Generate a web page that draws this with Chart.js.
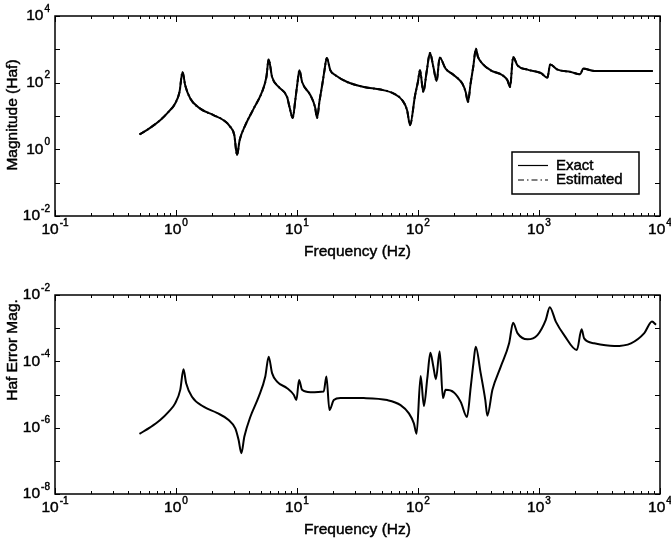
<!DOCTYPE html>
<html>
<head>
<meta charset="utf-8">
<script src="https://cdn.jsdelivr.net/npm/chart.js@4/dist/chart.umd.min.js"></script>
<style>
  html, body { margin: 0; padding: 0; background: #fff; }
  #wrap { position: relative; width: 671px; height: 546px; }
  #wrap canvas { position: absolute; left: 0; }
</style>
</head>
<body>
<div id="wrap">
  <canvas id="top" width="671" height="273" style="top:0"></canvas>
  <canvas id="bottom" width="671" height="273" style="top:273px"></canvas>
</div>
<script>
// --- data (Hz, magnitude) ---
const magFreq = [0.499, 0.611, 0.740, 0.867, 0.984, 1.069, 1.132, 1.191, 1.312, 1.585,
  2.042, 2.472, 2.812, 3.034, 3.192, 3.357, 3.741, 4.385, 5.140, 5.585,
  5.834, 6.223, 7.063, 8.279, 8.67, 9.226, 9.64, 10.07, 10.47, 11.02,
  12.91, 14.09, 14.66, 15.31, 16.14, 16.87, 17.62, 18.88, 20.80, 26.00,
  35.65, 48.98, 63.10, 74.13, 81.28, 85.9, 94.6, 99.8, 103.8, 110.7,
  117.8, 125.6, 134, 142.6, 151.0, 169.0, 198.2, 232.3, 247.7, 258.8,
  272, 286, 301.3, 312, 340.4, 399.0, 498.9, 548.3, 576.8, 611.0,
  663.7, 803.5, 1035, 1175, 1236, 1422, 1832, 2188, 2317, 2858,
  5754, 8710];
const exactMag = [2.79, 4.41, 7.48, 13.3, 23.7, 52.7, 209, 83.6, 33.4, 16.7,
  10.6, 7.48, 4.72, 2.66, 0.67, 1.88, 5.31, 16.7, 52.7, 148,
  501, 148, 74.3, 37.3, 18.7, 8.77, 26.4, 94, 235, 105,
  42.0, 18.7, 8.77, 26.4, 83.6, 235, 550, 234, 167, 105,
  74.3, 62.1, 47.2, 29.7, 14.9, 5.31, 42.0, 105, 235, 52.7,
  209, 774, 295, 112, 564, 264, 167, 94.0, 52.7, 26.4,
  94, 295, 1050, 617, 373, 235, 167, 118, 74.3, 589,
  332, 247, 195, 142, 348, 247, 209, 178, 264, 224,
  224, 224];
// the estimate sits on the exact curve everywhere in the picture
const estimatedMag = [2.79, 4.41, 7.48, 13.3, 23.7, 52.7, 209, 83.6, 33.4, 16.7,
  10.6, 7.48, 4.72, 2.66, 0.67, 1.88, 5.31, 16.7, 52.7, 148,
  501, 148, 74.3, 37.3, 18.7, 8.77, 26.4, 94, 235, 105,
  42.0, 18.7, 8.77, 26.4, 83.6, 235, 550, 234, 167, 105,
  74.3, 62.1, 47.2, 29.7, 14.9, 5.31, 42.0, 105, 235, 52.7,
  209, 774, 295, 112, 564, 264, 167, 94.0, 52.7, 26.4,
  94, 295, 1050, 617, 373, 235, 167, 118, 74.3, 589,
  332, 247, 195, 142, 348, 247, 209, 178, 264, 224,
  224, 224];

const errFreq = [0.499, 0.611, 0.740, 0.867, 0.984, 1.084, 1.153, 1.213, 1.355, 1.690,
  2.178, 2.723, 3.090, 3.289, 3.467, 3.673, 4.111, 4.819, 5.470, 5.834,
  6.223, 6.839, 8.279, 9.397, 9.886, 10.40, 11.02, 12.91, 16.63, 17.50,
  18.54, 20.14, 22.86, 35.65, 55.72, 71.78, 84.14, 92.47, 97.27, 105.2,
  111.9, 119.4, 126.5, 134, 140.6, 151.0, 160.7, 169.0, 198.2, 225.4,
  254.1, 273, 287, 299.9, 329.6, 360, 374.1, 412.1, 483.1, 566.2,
  611.0, 663.7, 803.5, 970.5, 1138, 1227, 1377, 1614, 2056, 2249,
  2360, 2858, 4188, 5754, 7413, 8590, 9268];
const errMag = [6.5e-7, 1.02e-6, 1.7e-6, 3.0e-6, 5.4e-6, 1.38e-5, 5.75e-5, 2.19e-5, 8.5e-6, 4.3e-6,
  2.8e-6, 1.7e-6, 9.5e-7, 4.3e-7, 1.7e-7, 5.4e-7, 2.1e-6, 8.5e-6, 3.5e-5, 1.38e-4,
  4.4e-5, 2.45e-5, 1.55e-5, 9.8e-6, 6.8e-6, 2.75e-5, 1.38e-5, 1.17e-5, 1.23e-5, 3.5e-5,
  3.4e-6, 6.8e-6, 7.9e-6, 7.8e-6, 6.8e-6, 4.8e-6, 2.7e-6, 1.35e-6, 6.5e-7, 3.6e-5,
  4.5e-6, 3.1e-5, 1.8e-4, 6.9e-5, 2.9e-5, 2.0e-4, 7.8e-6, 1.38e-5, 1.15e-5, 6.0e-6,
  2.1e-6, 1.74e-5, 8.7e-5, 2.75e-4, 4.4e-5, 6.8e-6, 2.3e-6, 1.38e-5, 6.9e-5, 3.5e-4,
  1.45e-3, 7.1e-4, 4.6e-4, 6.2e-4, 1.78e-3, 4.3e-3, 1.58e-3, 6.2e-4, 2.2e-4, 9.3e-4,
  4.9e-4, 3.5e-4, 2.9e-4, 3.5e-4, 7.1e-4, 1.58e-3, 1.26e-3];

// decade exponents that get labels
const xLabelExps = [-1, 0, 1, 2, 3, 4];
const magLabelExps = [-2, 0, 2, 4];
const errLabelExps = [-8, -6, -4, -2];

const FONT = "'Liberation Sans', Arial, Helvetica, sans-serif";

function toPoints(xs, ys) {
  return xs.map((x, i) => ({ x, y: ys[i] }));
}

// scanned text looks heavier than a plain canvas fill
function inkText(ctx, text, x, y) {
  ctx.fillText(text, x, y);
  ctx.lineWidth = 0.45;
  ctx.strokeText(text, x, y);
}

function drawPow(ctx, exp, x, y, align) {
  const base = "10";
  const sup = String(exp);
  ctx.font = `15.5px ${FONT}`;
  const bw = ctx.measureText(base).width;
  ctx.font = `10px ${FONT}`;
  const sw = ctx.measureText(sup).width;
  const left = align === "right" ? x - bw - sw - 1 : x - (bw + sw + 1) / 2;
  ctx.textAlign = "left";
  ctx.textBaseline = "middle";
  ctx.font = `15.5px ${FONT}`;
  inkText(ctx, base, left, y);
  ctx.font = `10px ${FONT}`;
  inkText(ctx, sup, left + bw + 1, y - 7);
}

// box, inward ticks, power-of-ten labels, titles and legend
const framePlugin = {
  id: "frame",
  afterDraw(chart, args, opts) {
    const { ctx, chartArea: a } = chart;
    const xs = chart.scales.x;
    const ys = chart.scales.y;
    ctx.save();
    ctx.strokeStyle = "#000";
    ctx.fillStyle = "#000";
    ctx.lineWidth = 1.5;
    ctx.strokeRect(a.left, a.top, a.right - a.left, a.bottom - a.top);

    ctx.lineWidth = 1;
    ctx.beginPath();
    const xMinE = Math.round(Math.log10(xs.min));
    const xMaxE = Math.round(Math.log10(xs.max));
    for (let e = xMinE; e <= xMaxE; e++) {
      for (let k = 1; k <= 9; k++) {
        const v = k * Math.pow(10, e);
        if (v > xs.max * 1.0001) break;
        const px = Math.round(xs.getPixelForValue(v)) + 0.5;
        const len = k === 1 ? 6 : 3;
        ctx.moveTo(px, a.bottom); ctx.lineTo(px, a.bottom - len);
        ctx.moveTo(px, a.top); ctx.lineTo(px, a.top + len);
      }
    }
    const yMinE = Math.round(Math.log10(ys.min));
    const yMaxE = Math.round(Math.log10(ys.max));
    for (let e = yMinE; e <= yMaxE; e++) {
      const py = Math.round(ys.getPixelForValue(Math.pow(10, e))) + 0.5;
      ctx.moveTo(a.left, py); ctx.lineTo(a.left + 5, py);
      ctx.moveTo(a.right, py); ctx.lineTo(a.right - 5, py);
    }
    ctx.stroke();

    xLabelExps.forEach(e => {
      drawPow(ctx, e, xs.getPixelForValue(Math.pow(10, e)), a.bottom + 14, "center");
    });
    opts.yExps.forEach(e => {
      drawPow(ctx, e, a.left - 5, ys.getPixelForValue(Math.pow(10, e)), "right");
    });

    ctx.font = `15.5px ${FONT}`;
    ctx.textAlign = "center";
    ctx.textBaseline = "middle";
    inkText(ctx, opts.xTitle, (a.left + a.right) / 2, a.bottom + 36);
    ctx.save();
    ctx.translate(13, opts.yTitleY);
    ctx.rotate(-Math.PI / 2);
    inkText(ctx, opts.yTitle, 0, 0);
    ctx.restore();

    if (opts.legend) {
      const L = opts.legend;
      ctx.lineWidth = 1.5;
      ctx.strokeRect(L.x, L.y, L.w, L.h);
      chart.data.datasets.forEach((ds, i) => {
        const ly = L.y + 13.5 + i * 14.5;
        ctx.beginPath();
        ctx.lineWidth = 1.2;
        ctx.setLineDash(ds.borderDash || []);
        ctx.moveTo(L.x + 6, ly); ctx.lineTo(L.x + 36, ly);
        ctx.stroke();
        ctx.setLineDash([]);
        ctx.font = `15px ${FONT}`;
        ctx.textAlign = "left";
        inkText(ctx, ds.label, L.x + 44, ly);
      });
    }
    ctx.restore();
  }
};

function baseOptions(yMin, yMax, padding, frame) {
  return {
    responsive: false,
    animation: false,
    layout: { padding },
    scales: {
      x: { type: "logarithmic", min: 0.1, max: 10000, display: false },
      y: { type: "logarithmic", min: yMin, max: yMax, display: false },
    },
    elements: { point: { radius: 0 }, line: { cubicInterpolationMode: "monotone" } },
    plugins: { legend: { display: false }, tooltip: { enabled: false }, frame },
  };
}

new Chart(document.getElementById("top"), {
  type: "line",
  data: {
    datasets: [
      { label: "Exact", data: toPoints(magFreq, exactMag), borderColor: "#000", borderWidth: 2 },
      { label: "Estimated", data: toPoints(magFreq, estimatedMag), borderColor: "#000", borderWidth: 2, borderDash: [6, 3, 1.5, 3] },
    ],
  },
  options: baseOptions(0.01, 10000, { left: 55, right: 11, top: 16, bottom: 57 }, {
    xTitle: "Frequency (Hz)",
    yTitle: "Magnitude (Haf)",
    yTitleY: 115,
    yExps: magLabelExps,
    legend: { x: 512, y: 152, w: 127, h: 42 },
  }),
  plugins: [framePlugin],
});

new Chart(document.getElementById("bottom"), {
  type: "line",
  data: {
    datasets: [
      { label: "Error", data: toPoints(errFreq, errMag), borderColor: "#000", borderWidth: 2 },
    ],
  },
  options: baseOptions(1e-8, 1e-2, { left: 55, right: 11, top: 22, bottom: 52 }, {
    xTitle: "Frequency (Hz)",
    yTitle: "Haf Error Mag.",
    yTitleY: 77,
    yExps: errLabelExps,
    legend: null,
  }),
  plugins: [framePlugin],
});
</script>
</body>
</html>
